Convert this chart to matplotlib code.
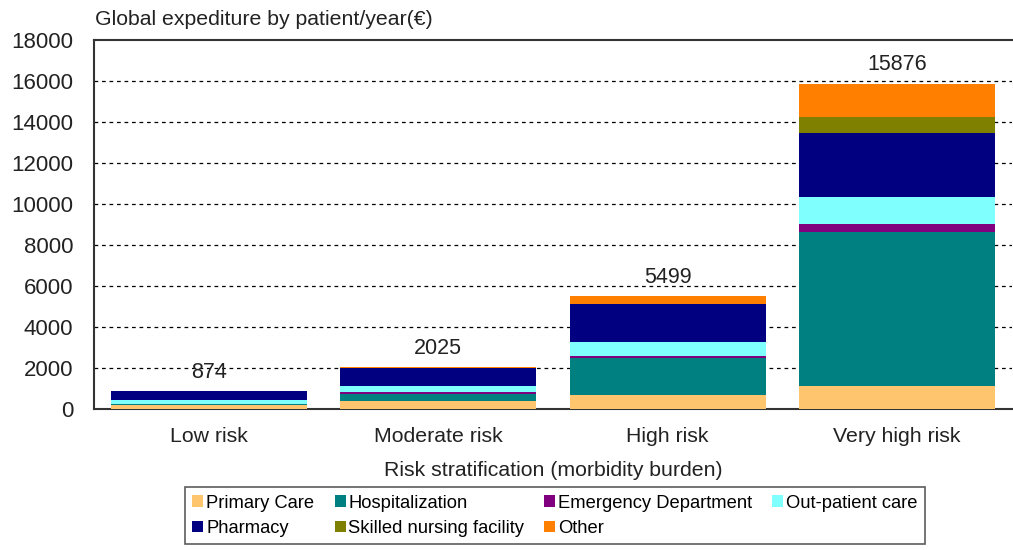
import matplotlib
matplotlib.use("Agg")
import matplotlib.pyplot as plt
import numpy as np

plt.rcParams['font.family'] = ['Liberation Sans', 'DejaVu Sans']

# data
categories = ["Low risk", "Moderate risk", "High risk", "Very high risk"]
totals = [874, 2025, 5499, 15876]

primary_care = [200, 370, 660, 1100]
hospitalization = [40, 380, 1840, 7540]
emergency = [10, 70, 100, 375]
outpatient = [180, 300, 650, 1335]
pharmacy = [430, 880, 1850, 3100]
nursing = [2, 5, 20, 780]
other = [12, 20, 379, 1646]

series = [
    ("Primary Care", primary_care, "#FFC46E"),
    ("Hospitalization", hospitalization, "#008080"),
    ("Emergency Department", emergency, "#800080"),
    ("Out-patient care", outpatient, "#80FFFF"),
    ("Pharmacy", pharmacy, "#000080"),
    ("Skilled nursing facility", nursing, "#808000"),
    ("Other", other, "#FF8000"),
]

txt = '#222222'

fig = plt.figure(figsize=(10.13, 5.5), dpi=100)
ax = fig.add_axes([0.0928, 0.2564, 0.906, 0.6706])

x = np.arange(len(categories))
bottom = np.zeros(len(categories))
handles = {}
for name, vals, color in series:
    bars = ax.bar(x, vals, width=0.855, bottom=bottom, color=color,
                  edgecolor='none', zorder=3, label=name)
    handles[name] = bars
    bottom += np.array(vals)

# totals above bars
for xi, t in zip(x, totals):
    ax.text(xi, t + 400, str(t), ha='center', va='bottom', fontsize=15.5, color=txt)

ax.set_xlim(-0.5, 3.5)
ax.set_ylim(0, 18000)
ax.set_yticks(np.arange(0, 18001, 2000))
ax.set_xticks(x)
ax.set_xticklabels(categories, fontsize=15.3, color=txt)
ax.tick_params(axis='y', labelsize=16, labelcolor=txt, length=0, pad=15)
ax.tick_params(axis='x', length=0, pad=13)

for yv in range(2000, 16001, 2000):
    ax.axhline(yv, color='black', linestyle=(0, (3, 3)), linewidth=0.9, zorder=1)

for side in ['left', 'bottom', 'top']:
    ax.spines[side].set_color('#333333')
    ax.spines[side].set_linewidth(1.5)
ax.spines['right'].set_visible(False)

ax.set_xlabel("Risk stratification (morbidity burden)", fontsize=15.3,
              color=txt, labelpad=11)
fig.text(0.094, 0.965, "Global expediture by patient/year(€)", fontsize=15.3,
         color=txt, ha='left', va='center')

order = ["Primary Care", "Pharmacy", "Hospitalization", "Skilled nursing facility",
         "Emergency Department", "Other", "Out-patient care"]
leg = fig.legend([handles[n] for n in order], order, ncol=4,
                 loc='lower center', bbox_to_anchor=(0.548, -0.006),
                 fontsize=13.2, frameon=True, fancybox=False,
                 handlelength=0.6, handleheight=0.6, handletextpad=0.15,
                 columnspacing=1.1, labelspacing=0.45, borderpad=0.4)
leg.get_frame().set_edgecolor('#333333')
leg.get_frame().set_linewidth(1.2)

fig.savefig("out.png", dpi=100)
